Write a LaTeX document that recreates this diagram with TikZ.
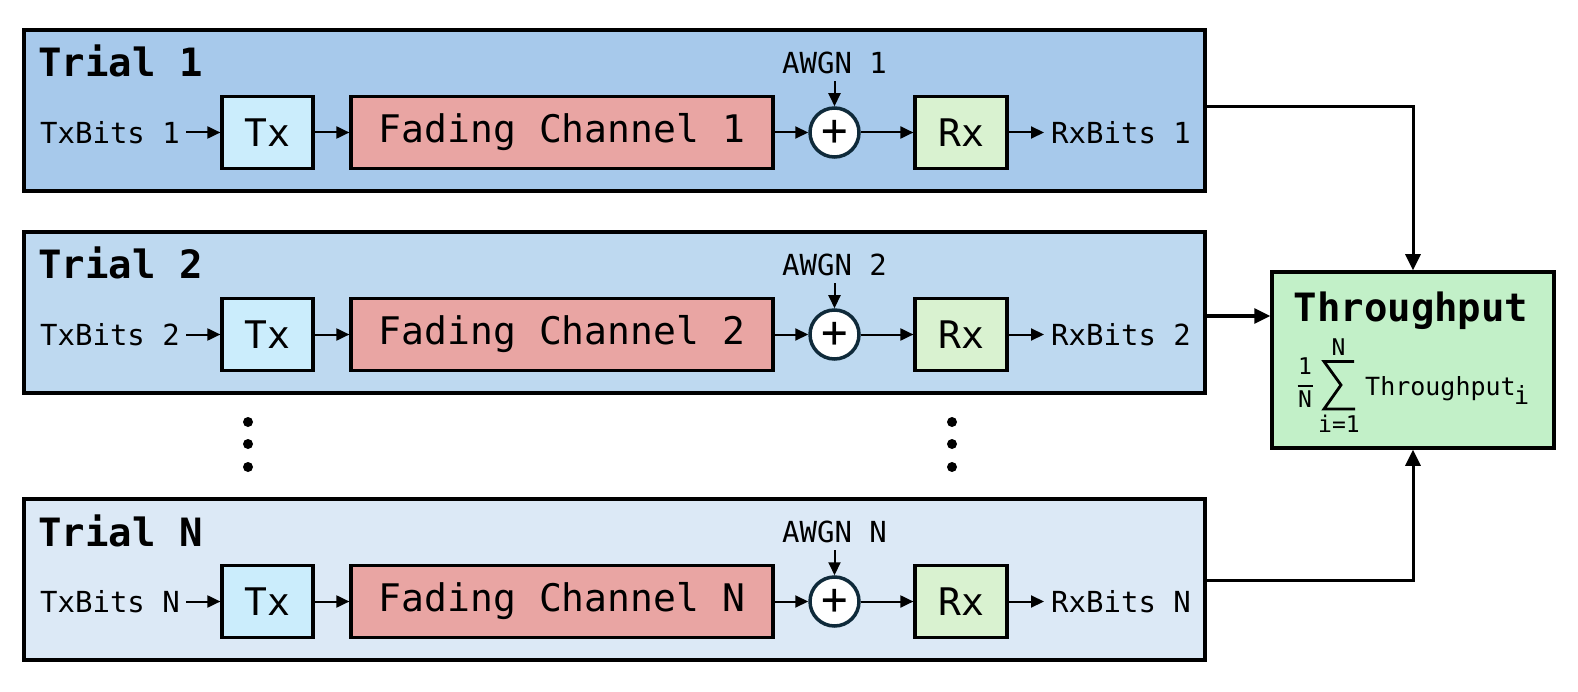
\documentclass[tikz,border=0pt]{standalone}
\usepackage{fontspec}
\setmainfont{DejaVu Sans Mono}
\usetikzlibrary{arrows.meta}
\definecolor{trialA}{HTML}{A7C9EB}
\definecolor{trialB}{HTML}{BED9F0}
\definecolor{trialC}{HTML}{DCE9F6}
\definecolor{txc}{HTML}{CBEDFC}
\definecolor{fcc}{HTML}{E9A5A3}
\definecolor{rxc}{HTML}{D9F2D0}
\definecolor{tpc}{HTML}{C2F0C8}
\definecolor{circc}{HTML}{0F2A3A}
\begin{document}
\begin{tikzpicture}[x=1pt,y=-1pt,
  trialbox/.style={draw, line width=3.5pt, minimum width=1181pt, minimum height=161pt, inner sep=0pt},
  blk/.style={draw, line width=3.2pt, minimum height=72pt, inner sep=0pt, font=\fontsize{38}{40}\selectfont},
  lbl/.style={inner sep=0pt, font=\fontsize{29}{31}\selectfont},
  ttl/.style={inner sep=0pt, anchor=base west, font=\fontsize{39}{41}\selectfont\bfseries},
  sumc/.style={circle, draw=circc, fill=white, line width=3.5pt, minimum size=49pt, inner sep=0pt, font=\fontsize{44}{46}\selectfont},
  arr/.style={line width=2pt, -{Triangle[length=13pt,width=12pt]}},
  bigarr/.style={line width=3pt, -{Triangle[length=16pt,width=15pt]}},
  dotn/.style={circle, fill=black, inner sep=0pt, minimum size=10pt},
  small/.style={inner sep=0pt, font=\fontsize{23}{25}\selectfont},
  frm/.style={inner sep=0pt, anchor=base west, font=\fontsize{25}{27}\selectfont}
]
\useasboundingbox (0,0) rectangle (1578,692);

\foreach \n/\top/\fillc/\lab in {1/30/trialA/1, 2/232/trialB/2, 3/499/trialC/N}{
  \pgfmathsetmacro\cy{\top+80.5}
  \pgfmathsetmacro\ry{\top+102.5}
  \node[trialbox, fill=\fillc] (t\n) at (614.5,\cy) {};
  \node[ttl] (ttl\n) at (38,{\top+47}) {Trial \lab};
  \node[blk, fill=txc, minimum width=91pt] (tx\n) at (267.5,\ry) {Tx};
  \node[blk, fill=fcc, minimum width=422pt] (fc\n) at (562,\ry) {Fading Channel \lab};
  \node[sumc] (s\n) at (834.5,\ry) {+};
  \node[blk, fill=rxc, minimum width=92pt] (rx\n) at (961,\ry) {Rx};
  \node[lbl, anchor=west] (txb\n) at (40,\ry) {TxBits \lab};
  \node[lbl, anchor=west] (rxb\n) at (1051,\ry) {RxBits \lab};
  \node[lbl] (aw\n) at (834.5,{\top+33}) {AWGN \lab};
  \draw[arr, shorten <=6pt] (txb\n) -- (tx\n);
  \draw[arr] (tx\n) -- (fc\n);
  \draw[arr] (fc\n) -- (s\n);
  \draw[arr] (s\n) -- (rx\n);
  \draw[arr, shorten >=7pt] (rx\n) -- (rxb\n);
  \draw[arr, shorten <=7pt] (aw\n) -- (s\n);
}

% vertical ellipsis
\node[dotn] (dl1) at (248,422) {};
\node[dotn] (dl2) at (248,444) {};
\node[dotn] (dl3) at (248,467) {};
\node[dotn] (dr1) at (952,422) {};
\node[dotn] (dr2) at (952,444) {};
\node[dotn] (dr3) at (952,467) {};

% throughput box
\node[draw, line width=3.5pt, fill=tpc, minimum width=282pt, minimum height=176pt, inner sep=0pt] (tp) at (1413,360) {};
\node[inner sep=0pt, anchor=base, font=\fontsize{39}{41}\selectfont\bfseries] (tpt) at (1411,322) {Throughput};
\node[small] (f1) at (1305,366) {1};
\node[small] (fN) at (1305,399) {N};
\draw[line width=1.6pt] (1297.5,386) -- (1312.5,386);
\draw[line width=2.8pt, line join=miter] (1354,361.5) -- (1324,361.5) -- (1341,385) -- (1324,409) -- (1355,409);
\node[small] (sN) at (1338.5,347) {N};
\node[small] (si) at (1339,424) {i=1};
\node[frm] (ft) at (1365,395) {Throughput};
\node[frm] (fi) at (1514,404) {i};

% connectors
\draw[bigarr] (t1.east |- 0,107) -| (tp.north);
\draw[bigarr] (t2.east |- 0,316) -- (tp.west |- 0,316);
\draw[bigarr] (t3.east |- 0,580) -| (tp.south);
\end{tikzpicture}
\end{document}
